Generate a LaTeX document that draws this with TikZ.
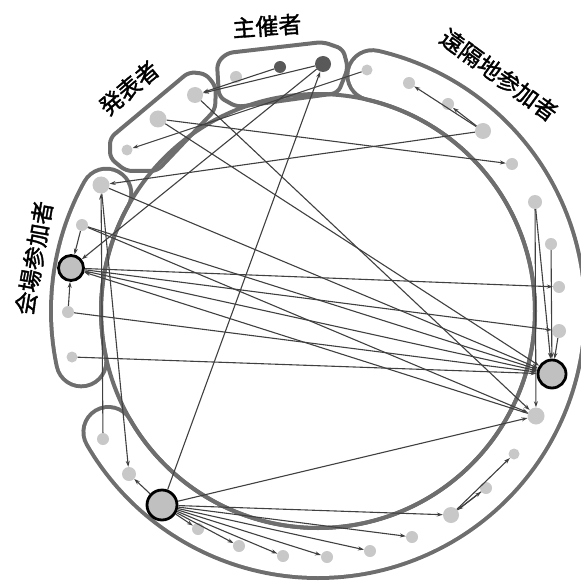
\documentclass[tikz,border=0pt]{standalone}
\usepackage{fontspec}
\newfontfamily\cjk{Noto Sans CJK JP}[FakeBold=1.5]
\usetikzlibrary{arrows.meta}
\definecolor{grp}{HTML}{6E6E6E}
\definecolor{ndfill}{HTML}{C8C8C8}
\definecolor{hubfill}{HTML}{C0C0C0}
\definecolor{dkfill}{HTML}{595959}
\definecolor{edgec}{HTML}{404040}
\begin{document}
\begin{tikzpicture}[x=1pt,y=-1pt,
  band/.style={line width=54pt, draw=grp, line cap=round, line join=round},
  bandin/.style={line width=46pt, draw=white, line cap=round, line join=round},
  outline/.style={draw=grp, line width=4pt, rounded corners=6pt, line join=round},
  nd/.style={circle, fill=ndfill, inner sep=0pt, minimum size=#1},
  dk/.style={circle, fill=dkfill, inner sep=0pt, minimum size=#1},
  hub/.style={circle, fill=hubfill, draw=black, line width=2.8pt, inner sep=0pt, minimum size=#1},
  edge/.style={draw=edgec, line width=1.1pt, -{Stealth[length=6pt,width=4pt]}},
  lab/.style={font=\cjk\fontsize{23}{23}\selectfont, inner sep=0pt}
]
\useasboundingbox (0,0) rectangle (580,585);
% remote band
\draw[band] plot[domain=-77:150, samples=160] ({318+242*cos(\x)},{311+242*sin(\x)});
\draw[bandin] plot[domain=-77:150, samples=160] ({318+242*cos(\x)},{311+242*sin(\x)});
% venue band
\draw[band] plot[domain=168:209, samples=40] ({318+242*cos(\x)},{311+242*sin(\x)});
\draw[bandin] plot[domain=168:209, samples=40] ({318+242*cos(\x)},{311+242*sin(\x)});
% big circle
\draw[grp, line width=4pt] (318,311) circle[radius=217];
% host group
\draw[outline] (217,63) -- (227,53) -- (323,42) -- (343,49) -- (348,68) -- (338,93) -- (237,107) -- (219,97) -- cycle;
% presenter group
\draw[outline] (110,138) -- (189,72) -- (206,74) -- (216,87) -- (215,110) -- (157,171) -- (126,171) -- (110,158) -- cycle;

% nodes
\node[nd=12pt] (h1) at (236,77) {};
\node[dk=12pt] (h2) at (280,67) {};
\node[dk=16pt] (h3) at (323,64) {};
\node[nd=16pt] (p1) at (195,95) {};
\node[nd=17pt] (p2) at (158,119) {};
\node[nd=11pt] (p3) at (127,150) {};
\node[nd=17pt] (v1) at (101,185) {};
\node[nd=12pt] (v2) at (82,225) {};
\node[hub=25pt] (v3) at (71,268) {};
\node[nd=12pt] (v4) at (68,312) {};
\node[nd=11pt] (v5) at (72,357) {};
\node[nd=11pt] (r1) at (367,70) {};
\node[nd=12pt] (r2) at (409,83) {};
\node[nd=12pt] (r3) at (448,104) {};
\node[nd=16pt] (r4) at (483,131) {};
\node[nd=12pt] (r5) at (512,164) {};
\node[nd=14pt] (r6) at (535,202) {};
\node[nd=12pt] (r7) at (551,244) {};
\node[nd=12pt] (r8) at (559,287) {};
\node[nd=14pt] (r9) at (559,331) {};
\node[hub=28pt] (r10) at (552,374) {};
\node[nd=17pt] (r11) at (536,416) {};
\node[nd=11pt] (r12) at (514,454) {};
\node[nd=12pt] (r13) at (486,488) {};
\node[nd=16pt] (r14) at (451,515) {};
\node[nd=12pt] (r15) at (412,537) {};
\node[nd=12pt] (r16) at (370,551) {};
\node[nd=12pt] (r17) at (327,557) {};
\node[nd=12pt] (b1) at (103,439) {};
\node[nd=14pt] (b2) at (129,474) {};
\node[hub=30pt] (b3) at (162,505) {};
\node[nd=12pt] (b4) at (198,529) {};
\node[nd=12pt] (b5) at (239,546) {};
\node[nd=12pt] (b6) at (283,556) {};

% edges
\foreach \a/\b in {h2/p1, h3/p1, h3/v3, b3/h3, r1/p3, p2/r5, r4/v1, r4/r2, r4/r3,
  p2/r10, p1/r11, v2/r11, v2/r10, v1/r10, b1/v1, v1/b2, v2/v3, v4/v3, v4/r10, v5/r10,
  v3/r8, v3/r9, v3/r10, r11/v3, r6/r10, r7/r10, r9/r10, r6/r11, b3/r11, b3/b2, b3/b4,
  b3/b5, b3/b6, b3/r17, b3/r16, b3/r15, b3/r14, r14/r13, r13/r14, r14/r12}
  \draw[edge] (\a) -- (\b);

% labels
\node[lab, rotate=4] (lhost) at (267,26) {主催者};
\node[lab, rotate=40] (lpres) at (129,88) {発表者};
\node[lab, rotate=80] (lvenue) at (34,258) {会場参加者};
\node[lab, rotate=-36] (lremote) at (499,75) {遠隔地参加者};
\end{tikzpicture}
\end{document}
